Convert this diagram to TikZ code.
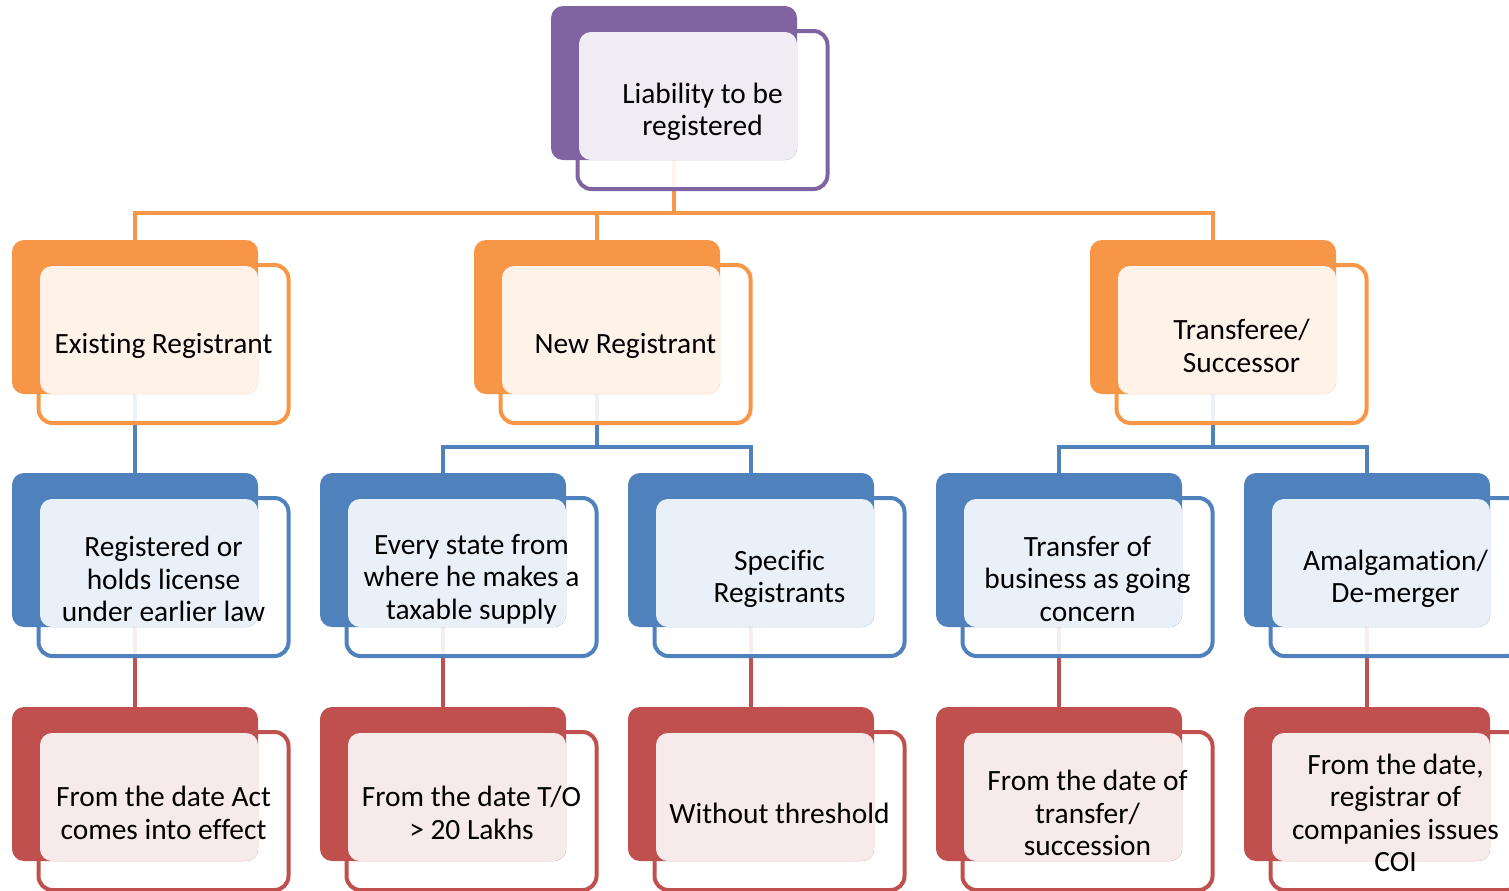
\documentclass[tikz,border=0pt]{standalone}
\usepackage{fontspec}
\setmainfont{Carlito}[Ligatures=NoCommon]
\usepackage{tikz}
\definecolor{mypurple}{RGB}{128,100,162}
\definecolor{myorange}{RGB}{247,150,70}
\definecolor{myblue}{RGB}{79,129,189}
\definecolor{myred}{RGB}{192,80,77}
\pgfdeclarelayer{background}
\pgfsetlayers{background,main}

\begin{document}
\begin{tikzpicture}[
  x=0.5pt,
  y=0.5pt,
  framebox/.style={
    draw=#1,
    line width=2pt,
    fill=white,
    fill opacity=0.9,
    rounded corners=7pt,
    minimum width=125pt,
    minimum height=79pt,
    inner sep=0pt
    },
  backbox/.style={
    fill=#1,
    rounded corners=6pt,
    minimum width=123pt,
    minimum height=77pt,
    inner sep=0pt
    },
  tintbox/.style={
    fill=#1!12,
    rounded corners=6pt,
    minimum width=109pt,
    minimum height=64pt,
    inner sep=0pt
    },
  boxtext/.style={
    align=center,
    font=\fontsize{14.7}{16.25}\selectfont
    },
  link/.style={draw=#1, line width=2pt}
]

\useasboundingbox (0,0) rectangle (1509,-890);

\foreach \nm/\col/\px/\py in {
  liab/mypurple/702.5/-110,
  exist/myorange/163.5/-344,
  newreg/myorange/625.5/-344,
  transf/myorange/1241.5/-344,
  regd/myblue/163.5/-577,
  every/myblue/471.5/-577,
  specific/myblue/779.5/-577,
  transbiz/myblue/1087.5/-577,
  amalg/myblue/1395.5/-577,
  actdate/myred/163.5/-811,
  turnover/myred/471.5/-811,
  nothresh/myred/779.5/-811,
  transdate/myred/1087.5/-811,
  coidate/myred/1395.5/-811}
{
  \node[framebox=\col] (\nm-f) at (\px,\py) {};
  \node[backbox=\col] (\nm) at ([shift={(-28.5,27)}]\nm-f.center) {};
  \node[tintbox=\col] (\nm-i) at ([shift={(14,-13)}]\nm.center) {};
}

\node[boxtext] (liab-t) at ([yshift=-1]liab-f) {Liability to be\\registered};
\node[boxtext] (exist-t) at ([yshift=-1]exist-f) {Existing Registrant};
\node[boxtext] (newreg-t) at ([yshift=-1]newreg-f) {New Registrant};
\node[boxtext] (transf-t) at ([yshift=-1]transf-f) {Transferee/\\Successor};
\node[boxtext] (regd-t) at ([yshift=-1]regd-f) {Registered or\\holds license\\under earlier law};
\node[boxtext] (every-t) at ([yshift=-1]every-f) {Every state from\\where he makes a\\taxable supply};
\node[boxtext] (specific-t) at ([yshift=-1]specific-f) {Specific\\Registrants};
\node[boxtext] (transbiz-t) at ([yshift=-1]transbiz-f) {Transfer of\\business as going\\concern};
\node[boxtext] (amalg-t) at ([yshift=-1]amalg-f) {Amalgamation/\\De-merger};
\node[boxtext] (actdate-t) at ([yshift=-1]actdate-f) {From the date Act\\comes into effect};
\node[boxtext] (turnover-t) at ([yshift=-1]turnover-f) {From the date T/O\\> 20 Lakhs};
\node[boxtext] (nothresh-t) at ([yshift=-1]nothresh-f) {Without threshold};
\node[boxtext] (transdate-t) at ([yshift=-1]transdate-f) {From the date of\\transfer/\\succession};
\node[boxtext] (coidate-t) at ([yshift=-1]coidate-f) {From the date,\\registrar of\\companies issues\\COI};

\begin{pgfonlayer}{background}
\coordinate (bus1) at (0,-213);
\coordinate (bus2) at (0,-447);
\foreach \kid in {exist, newreg, transf}
  \draw[link=myorange] (liab.south) |- (\kid.north |- bus1) -- (\kid.north);
\draw[link=myblue] (exist.south) -- (regd.north);
\foreach \kid in {every, specific}
  \draw[link=myblue] (newreg.south) |- (\kid.north |- bus2) -- (\kid.north);
\foreach \kid in {transbiz, amalg}
  \draw[link=myblue] (transf.south) |- (\kid.north |- bus2) -- (\kid.north);
\foreach \up/\kid in {regd/actdate, every/turnover, specific/nothresh, transbiz/transdate, amalg/coidate}
  \draw[link=myred] (\up.south) -- (\kid.north);
\end{pgfonlayer}
\end{tikzpicture}
\end{document}
